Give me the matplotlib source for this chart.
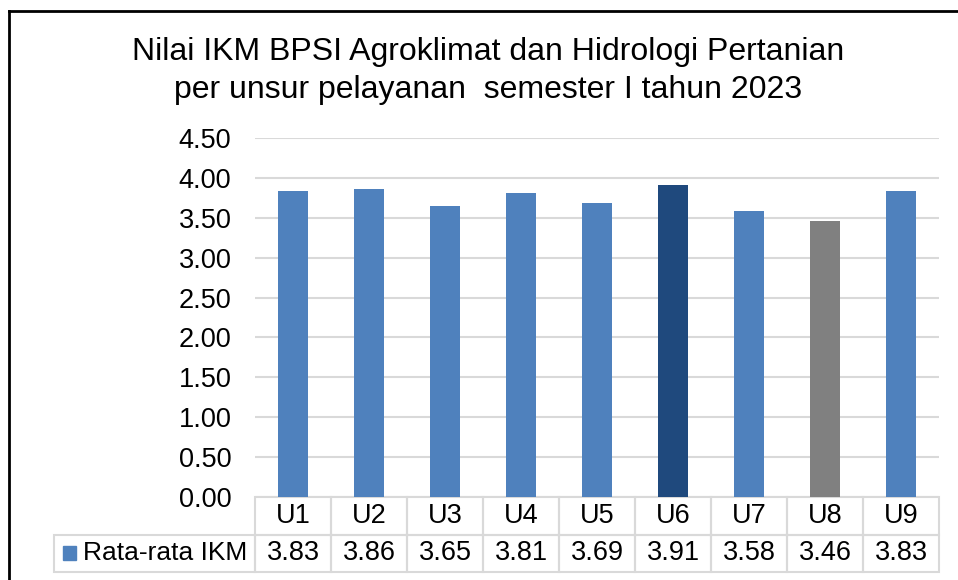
import matplotlib

matplotlib.use("Agg")
import matplotlib.pyplot as plt
from matplotlib.lines import Line2D
from matplotlib.patches import Rectangle
from matplotlib.transforms import blended_transform_factory

plt.rcParams["font.family"] = ["Liberation Sans", "DejaVu Sans"]

categories = ["U1", "U2", "U3", "U4", "U5", "U6", "U7", "U8", "U9"]
values = [3.83, 3.86, 3.65, 3.81, 3.69, 3.91, 3.58, 3.46, 3.83]
series_name = "Rata-rata IKM"
title = "Nilai IKM BPSI Agroklimat dan Hidrologi Pertanian\nper unsur pelayanan  semester I tahun 2023"
yticks = [0.0, 0.5, 1.0, 1.5, 2.0, 2.5, 3.0, 3.5, 4.0, 4.5]

BLUE = "#4F81BD"
colors = [BLUE] * len(values)
colors[5] = "#1F497D"
colors[7] = "#808080"
GRID = "#D9D9D9"
FS = 19.5

W, H = 958, 580
fig = plt.figure(figsize=(W / 100, H / 100), dpi=100)
ax = fig.add_axes([255 / W, 1 - 497 / H, 684 / W, 359 / H])

x = list(range(len(categories)))
ax.bar(x, values, width=0.39, color=colors, zorder=3)
ax.set_xlim(-0.5, len(categories) - 0.5)
ax.set_ylim(0, 4.5)
ax.set_yticks(yticks)
ax.set_yticklabels([f"{t:.2f}" for t in yticks], fontsize=FS)
ax.tick_params(axis="y", length=0, pad=17)
ax.set_xticks([])
ax.yaxis.grid(True, color=GRID, lw=1.5, zorder=0)
for s in ax.spines.values():
    s.set_visible(False)

fig.text(488 / W, 1 - 71 / H, title, ha="center", va="center", fontsize=23,
         linespacing=1.32)

# data table below the axis
tr = blended_transform_factory(ax.transData, ax.transAxes)
row_h = 37.5 / 359
for i, (c, v) in enumerate(zip(categories, values)):
    for r, txt in enumerate([c, f"{v:.2f}"]):
        y0 = -(r + 1) * row_h
        ax.add_patch(Rectangle((i - 0.5, y0), 1, row_h, transform=tr, fill=False,
                               ec=GRID, lw=1.5, clip_on=False))
        ax.text(i, y0 + row_h / 2, txt, transform=tr, ha="center", va="center",
                fontsize=FS)

# row header for the series
hx0 = (54 - 255) / 684
ax.add_patch(Rectangle((hx0, -2 * row_h), -hx0, row_h, transform=ax.transAxes,
                       fill=False, ec=GRID, lw=1.5, clip_on=False))
ax.add_patch(Rectangle((hx0 + 9 / 684, -2 * row_h + 12 / 359), 13 / 684, 14 / 359,
                       transform=ax.transAxes, color=BLUE, clip_on=False))
ax.text(hx0 + 29 / 684, -1.5 * row_h, series_name, transform=ax.transAxes,
        ha="left", va="center", fontsize=19)

# chart border (cropped on the right and bottom)
fig.add_artist(Line2D([9 / W, 9 / W], [0, 1 - 11 / H], color="black", lw=2))
fig.add_artist(Line2D([9 / W, 1], [1 - 11 / H, 1 - 11 / H], color="black", lw=2))

fig.savefig("out.png", dpi=100)
